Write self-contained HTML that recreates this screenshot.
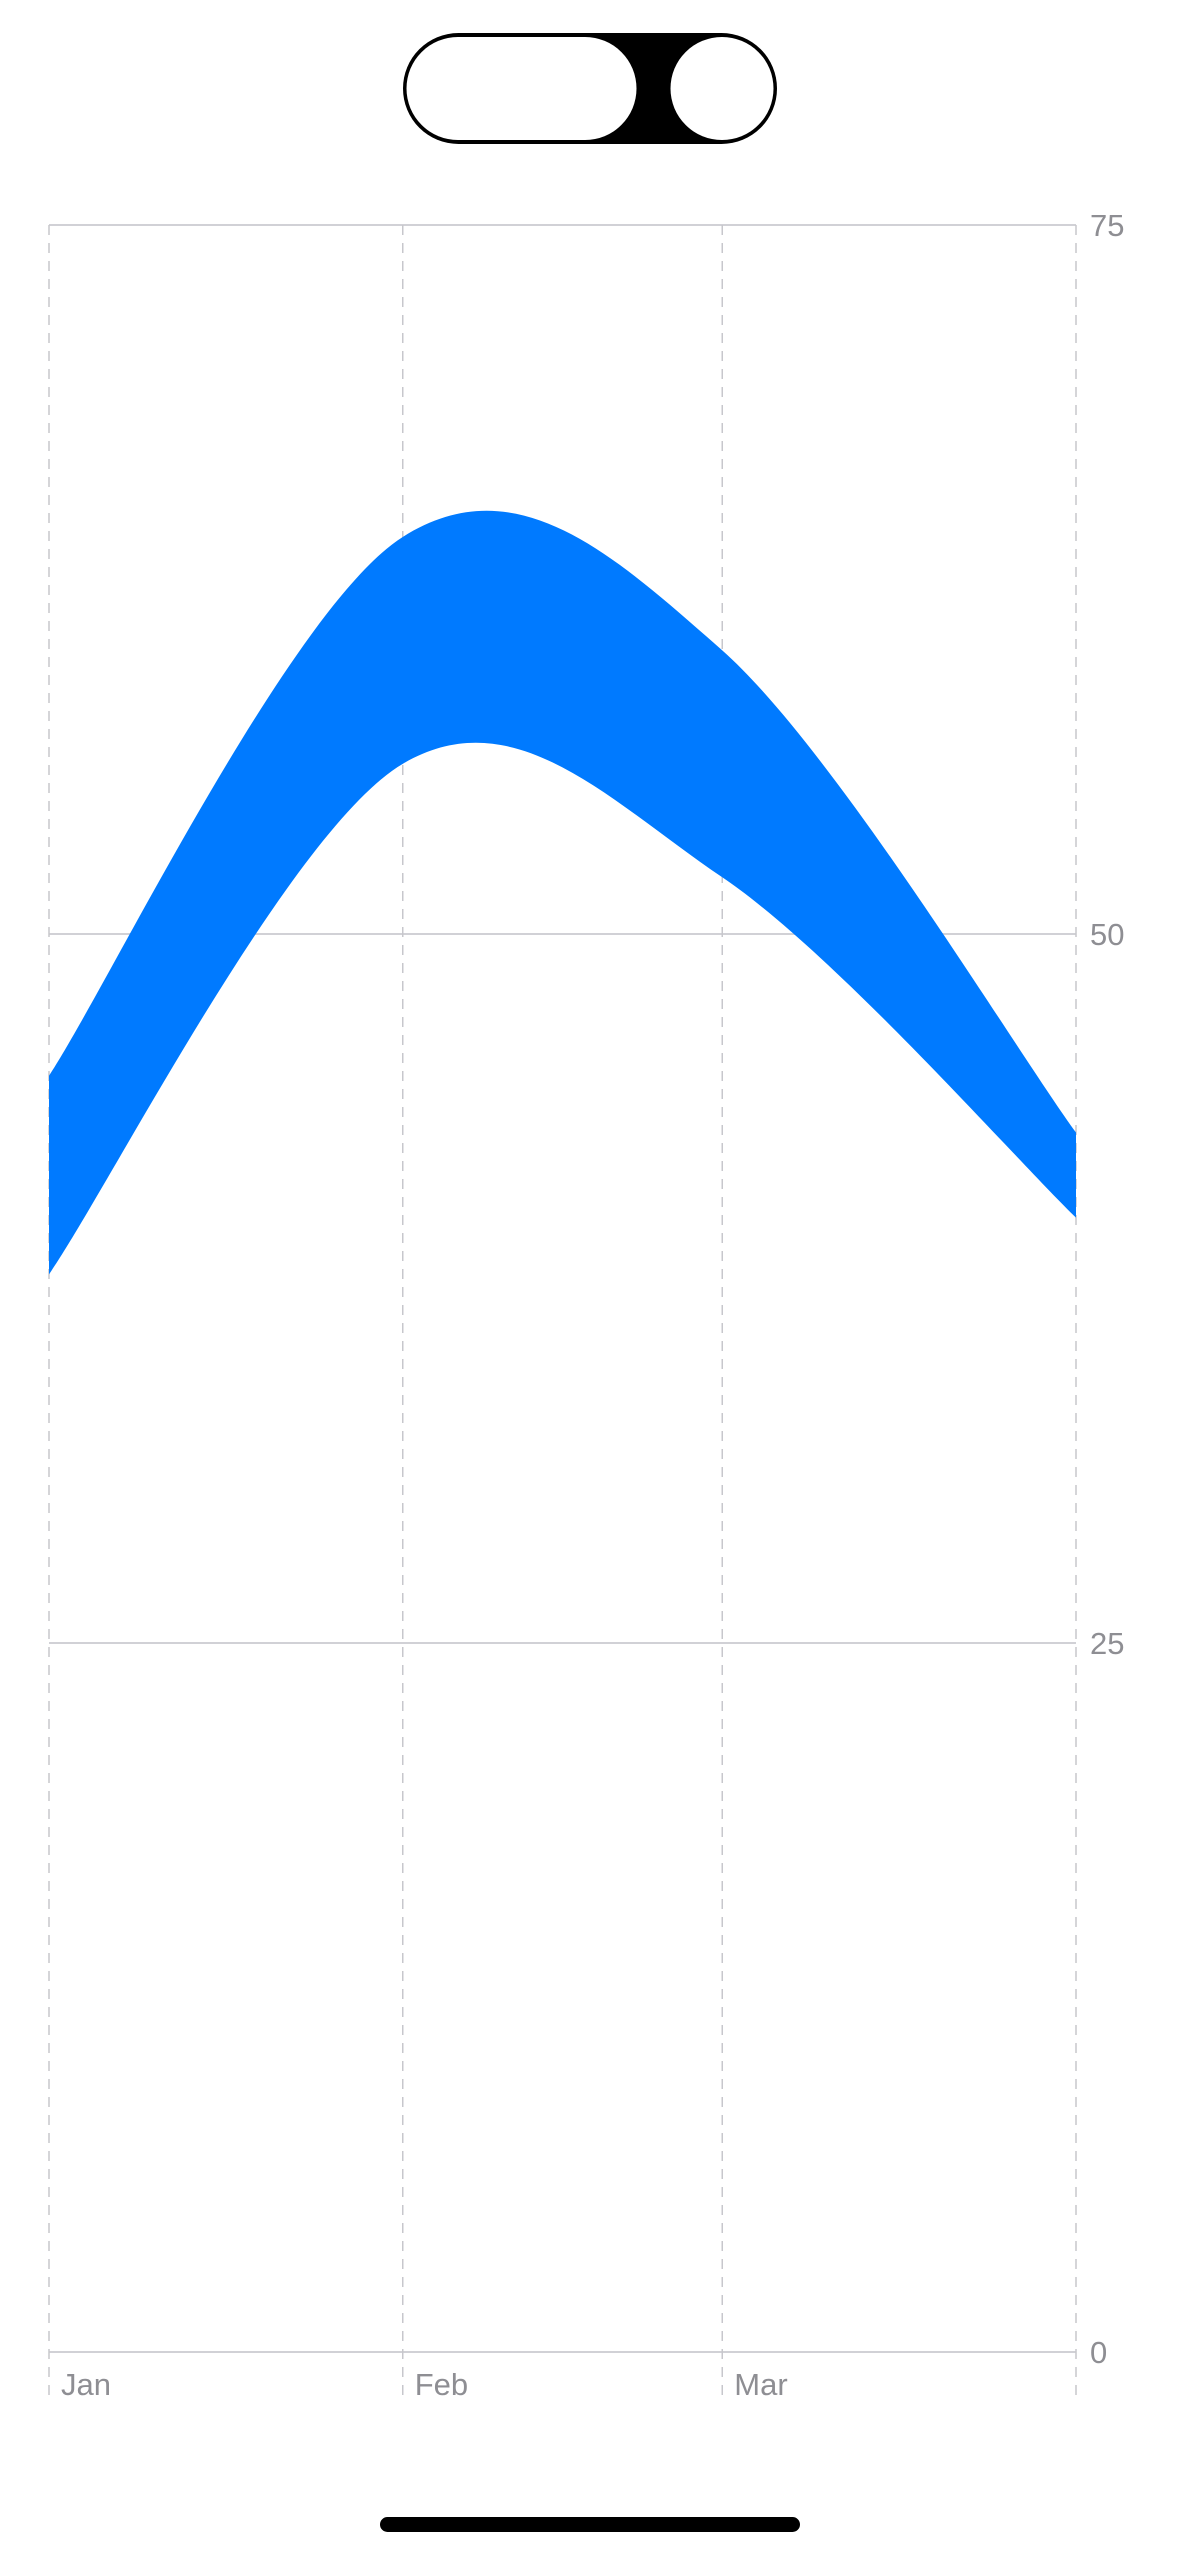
<!DOCTYPE html>
<html><head><meta charset="utf-8"><style>
html,body{margin:0;padding:0;background:#fff;width:1179px;height:2556px;overflow:hidden}
svg{display:block}
text{font-family:"Liberation Sans",sans-serif;fill:#8e8e93;font-size:31px}
</style></head><body>
<svg id="chart" width="1179" height="2556">
  <g>
    <rect x="403" y="33" width="374" height="111" rx="55.5" fill="#000"/>
    <rect x="406.5" y="37" width="230" height="103" rx="51.5" fill="#fff"/>
    <circle cx="722" cy="88.5" r="51.5" fill="#fff"/>
  </g>
  <g id="grid"></g>
  <path id="area" fill="#007aff"/>
  <g id="labels"></g>
  <rect x="380" y="2517" width="420" height="15" rx="7.5" fill="#000"/>
</svg>
<script>
const categories = ["Jan","Feb","Mar","Apr"];
const upperValues = [45, 64, 60, 43];
const lowerValues = [38, 56, 52, 40];
const yTicks = [0, 25, 50, 75];
const xLabels = ["Jan","Feb","Mar"];

const X0 = 49, X1 = 1076, Y0 = 2352, Y75 = 225;
const dayOffsets = [0, 31, 59, 90];
function x(i){ return X0 + (dayOffsets[i]/90)*(X1-X0); }
function y(v){ return Y0 - (v/75)*(Y0-Y75); }
const NS = "http://www.w3.org/2000/svg";
const grid = document.getElementById('grid');
const labels = document.getElementById('labels');

yTicks.forEach(t=>{
  const l = document.createElementNS(NS,'line');
  l.setAttribute('x1',X0); l.setAttribute('x2',X1);
  l.setAttribute('y1',y(t)); l.setAttribute('y2',y(t));
  l.setAttribute('stroke','#d1d1d6'); l.setAttribute('stroke-width','2');
  
  
  grid.appendChild(l);
  const tx = document.createElementNS(NS,'text');
  tx.setAttribute('x',1090); tx.setAttribute('y',y(t)+11);
  tx.textContent = t;
  
  
  labels.appendChild(tx);
});
categories.forEach((c,i)=>{
  const l = document.createElementNS(NS,'line');
  l.setAttribute('x1',x(i)); l.setAttribute('x2',x(i));
  l.setAttribute('y1',225); l.setAttribute('y2',2403);
  l.setAttribute('stroke','#c7c7cc'); l.setAttribute('stroke-width','1.5');
  l.setAttribute('stroke-dasharray','10,8');
  
  
  grid.appendChild(l);
});
xLabels.forEach((c,i)=>{
  const tx = document.createElementNS(NS,'text');
  tx.setAttribute('x',x(i)+12); tx.setAttribute('y',2395);
  tx.textContent = c;
  
  
  labels.appendChild(tx);
});

function catmull(pts){
  let d = '';
  for(let i=0;i<pts.length-1;i++){
    const p0 = pts[Math.max(0,i-1)], p1 = pts[i], p2 = pts[i+1], p3 = pts[Math.min(pts.length-1,i+2)];
    const c1 = [p1[0]+(p2[0]-p0[0])/6, p1[1]+(p2[1]-p0[1])/6];
    const c2 = [p2[0]-(p3[0]-p1[0])/6, p2[1]-(p3[1]-p1[1])/6];
    d += ` C${c1[0]},${c1[1]} ${c2[0]},${c2[1]} ${p2[0]},${p2[1]}`;
  }
  return d;
}
const up = upperValues.map((v,i)=>[x(i),y(v)]);
const lo = lowerValues.map((v,i)=>[x(i),y(v)]).reverse();
const d = `M${up[0][0]},${up[0][1]}` + catmull(up) + ` L${lo[0][0]},${lo[0][1]}` + catmull(lo) + ' Z';
document.getElementById('area').setAttribute('d', d);
</script>
</body></html>
